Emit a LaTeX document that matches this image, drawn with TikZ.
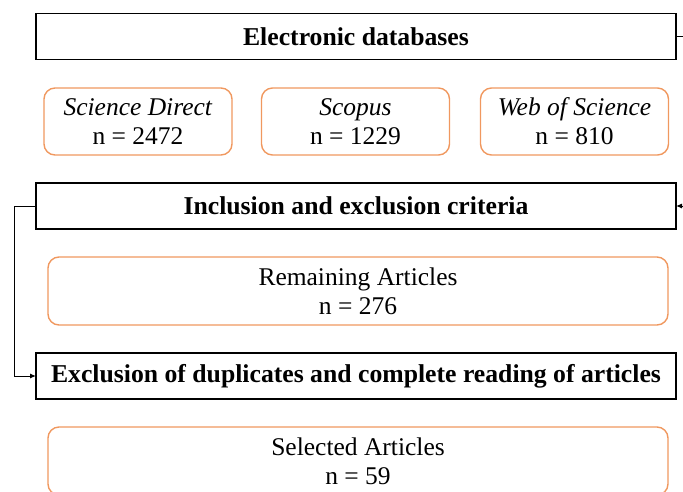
\documentclass[tikz,border=0pt]{standalone}
\usepackage{fontspec}
\setmainfont{Liberation Serif}
\usetikzlibrary{arrows.meta}
\definecolor{boxorange}{RGB}{240,152,95}
\tikzset{
  blackbox/.style={draw=black, line width=1.3pt, fill=white, inner sep=0pt, outer sep=0pt,
    minimum width=640pt, minimum height=46pt, font=\fontsize{25.7}{29}\selectfont\bfseries},
  srcbox/.style={draw=boxorange, line width=1.4pt, rounded corners=11pt, inner sep=0pt, outer sep=0pt,
    minimum width=188pt, minimum height=67pt, align=center, font=\fontsize{25.5}{29}\selectfont},
  resbox/.style={draw=boxorange, line width=1.4pt, rounded corners=11pt, inner sep=0pt, outer sep=0pt,
    minimum width=620pt, minimum height=68pt, align=center, font=\fontsize{25.5}{29}\selectfont},
  conn/.style={draw=black, line width=1pt},
  arr/.style={conn, -{Latex[length=6pt,width=5pt]}}
}
\begin{document}
\begin{tikzpicture}[x=1pt,y=-1pt]
\useasboundingbox (0,0) rectangle (683,491);
\node[blackbox] (db) at (356,36.5) {Electronic databases};
\node[srcbox] (sd) at (138,121.5) {\textit{Science Direct}\\n = 2472};
\node[srcbox] (sc) at (355.5,121.5) {\textit{Scopus}\\n = 1229};
\node[srcbox] (ws) at (574.5,121.5) {\textit{Web of Science}\\n = 810};
\node[blackbox] (inc) at (356,206) {Inclusion and exclusion criteria};
\node[resbox] (rem) at (358,291) {Remaining Articles\\n = 276};
\node[blackbox] (exc) at (356,376) {Exclusion of duplicates and complete reading of articles};
\node[resbox] (sel) at (358,461) {Selected Articles\\n = 59};
\coordinate (rt) at (690,36.5);
\coordinate (rb) at (690,206);
\draw[conn] (db.east) -- (rt);
\draw[arr] (rb) -- (inc.east);
\draw[arr] (inc.west) -- ++(-22,0) |- (exc.west);
\end{tikzpicture}
\end{document}
